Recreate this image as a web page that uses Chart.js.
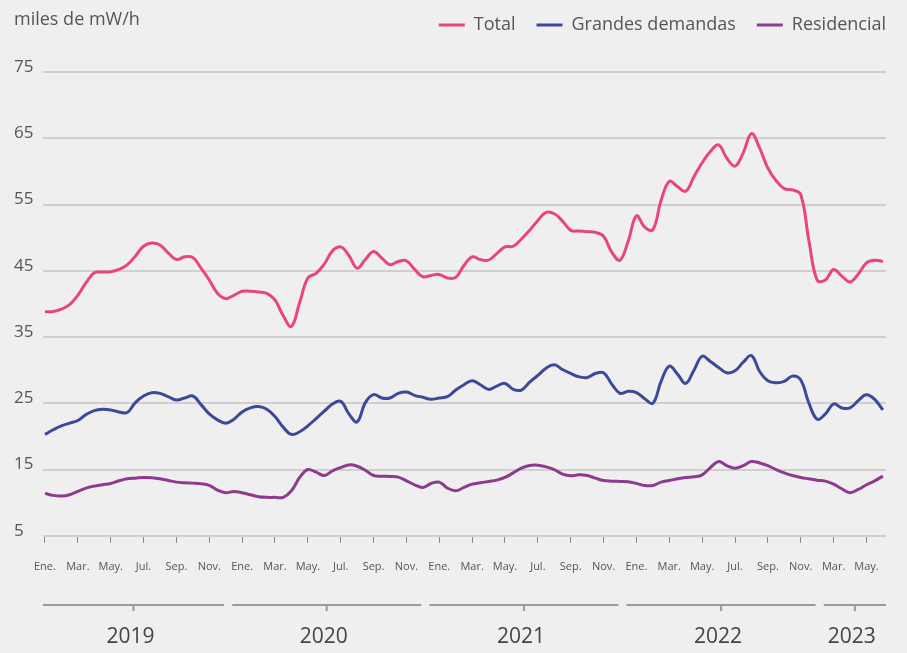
<!DOCTYPE html>
<html>
<head>
<meta charset="utf-8">
<script src="https://cdn.jsdelivr.net/npm/chart.js@4.4.0/dist/chart.umd.min.js"></script>
<style>
  html, body { margin: 0; padding: 0; background: #efefef; }
  #wrap { position: relative; width: 907px; height: 653px; }
</style>
</head>
<body>
<div id="wrap"><canvas id="energyChart" width="907" height="653"></canvas></div>
<script>
// meses desde enero 2019, cada medio mes
const months = [];
for (let m = 0; m <= 51; m += 0.5) months.push(m);

const total = [
  38.8, 38.85, 39.2, 39.9, 41.3, 43.2, 44.7, 44.8, 44.85, 45.2, 45.9, 47.2,
  48.7, 49.2, 48.9, 47.7, 46.7, 47.1, 47.0, 45.4, 43.6, 41.6, 40.8, 41.3,
  41.9, 41.9, 41.8, 41.6, 40.6, 38.2, 36.6, 40.2, 43.9, 44.6, 46.0, 48.0,
  48.6, 47.3, 45.4, 46.7, 47.9, 46.9, 45.9, 46.4, 46.5, 45.2, 44.1, 44.3,
  44.45, 43.9, 44.0, 45.8, 47.1, 46.7, 46.6, 47.6, 48.6, 48.7, 49.8, 51.1,
  52.6, 53.8, 53.6, 52.5, 51.1, 51.0, 50.9, 50.8, 50.2, 47.8, 46.6, 49.5,
  53.3, 51.6, 51.2, 55.6, 58.5, 57.7, 57.0, 59.2, 61.3, 63.0, 64.0, 62.0,
  60.8, 62.8, 65.7, 63.5, 60.5, 58.6, 57.4, 57.2, 56.5, 49.5, 43.6, 43.6,
  45.2, 44.2, 43.3, 44.5, 46.2, 46.6, 46.4
];

const grandesDemandas = [
  20.3, 21.0, 21.6, 22.0, 22.4, 23.3, 23.9, 24.1, 24.0, 23.7, 23.6, 25.1,
  26.1, 26.6, 26.5, 26.0, 25.5, 25.8, 26.1, 24.8, 23.4, 22.5, 22.0, 22.6,
  23.7, 24.3, 24.5, 24.1, 23.0, 21.4, 20.3, 20.7, 21.6, 22.7, 23.8, 24.9,
  25.3, 23.4, 22.2, 25.1, 26.3, 25.8, 25.8, 26.5, 26.7, 26.2, 25.9, 25.6,
  25.8, 26.0, 27.0, 27.8, 28.4, 27.8, 27.1, 27.6, 28.0, 27.1, 27.0, 28.2,
  29.2, 30.3, 30.8, 30.1, 29.5, 29.0, 28.9, 29.5, 29.6, 27.9, 26.5, 26.8,
  26.6, 25.7, 25.0, 28.3, 30.6, 29.4, 28.0, 30.0, 32.1, 31.3, 30.4, 29.6,
  29.9, 31.2, 32.2, 29.8, 28.4, 28.1, 28.3, 29.1, 28.5, 25.0, 22.6, 23.4,
  24.9, 24.3, 24.3, 25.4, 26.3, 25.6, 24.0
];

const residencial = [
  11.4, 11.1, 11.0, 11.2, 11.7, 12.2, 12.5, 12.7, 12.9, 13.3, 13.6, 13.7,
  13.8, 13.75, 13.6, 13.35, 13.1, 13.0, 12.95, 12.85, 12.6, 11.9, 11.5, 11.7,
  11.5, 11.2, 10.9, 10.8, 10.8, 10.8, 11.8, 13.8, 15.0, 14.6, 14.1, 14.8,
  15.3, 15.7, 15.5, 14.9, 14.1, 14.0, 13.95, 13.85, 13.3, 12.7, 12.3, 12.9,
  13.1, 12.2, 11.8, 12.3, 12.8, 13.0, 13.2, 13.4, 13.8, 14.5, 15.2, 15.6,
  15.65, 15.4, 15.0, 14.3, 14.05, 14.2, 14.1, 13.7, 13.35, 13.25, 13.2, 13.15,
  12.9, 12.6, 12.6, 13.1, 13.35, 13.6, 13.8, 13.9, 14.2, 15.3, 16.2, 15.6,
  15.2, 15.6, 16.2, 16.0, 15.6, 15.0, 14.5, 14.1, 13.8, 13.6, 13.4, 13.25,
  12.8, 12.1, 11.5, 12.0, 12.7, 13.3, 14.0
];

const tickMonths = [];
for (let m = 0; m <= 50; m += 2) tickMonths.push(m);
const tickLabels = [
  'Ene.', 'Mar.', 'May.', 'Jul.', 'Sep.', 'Nov.',
  'Ene.', 'Mar.', 'May.', 'Jul.', 'Sep.', 'Nov.',
  'Ene.', 'Mar.', 'May.', 'Jul.', 'Sep.', 'Nov.',
  'Ene.', 'Mar.', 'May.', 'Jul.', 'Sep.', 'Nov.',
  'Mar.', 'May.'
];
const yTicks = [5, 15, 25, 35, 45, 55, 65, 75];
const years = ['2019', '2020', '2021', '2022', '2023'];

const FONT = "'Open Sans', 'DejaVu Sans', sans-serif";

// mas espacio bajo la leyenda, y leyenda un poco mas arriba
const legendSpacer = {
  id: 'legendSpacer',
  beforeInit(chart) {
    const fit = chart.legend.fit;
    chart.legend.fit = function () {
      fit.bind(chart.legend)();
      this.height += 23;
    };
  },
  afterLayout(chart) {
    chart.legend.top -= 5;
    chart.legend.bottom -= 5;
  }
};

// etiqueta de unidades y llaves de años
const extrasPlugin = {
  id: 'extras',
  afterDraw(chart) {
    const ctx = chart.ctx;
    const x = chart.scales.x;
    ctx.save();
    ctx.fillStyle = '#555';
    ctx.font = '18px ' + FONT;
    ctx.textAlign = 'left';
    ctx.textBaseline = 'middle';
    ctx.fillText('miles de mW/h', 14, 20);

    const lineY = 605;
    ctx.strokeStyle = '#9a9a9a';
    ctx.lineWidth = 2;
    ctx.font = '21px ' + FONT;
    ctx.fillStyle = '#444';
    ctx.textAlign = 'center';
    years.forEach((yr, k) => {
      const a = Math.max(12 * k - 0.6, x.min);
      const b = Math.min(12 * k + 10.9, x.max);
      const x0 = x.getPixelForValue(a);
      const x1 = x.getPixelForValue(b);
      const xc = (x0 + x1) / 2;
      ctx.beginPath();
      ctx.moveTo(x0, lineY);
      ctx.lineTo(x1, lineY);
      ctx.moveTo(xc, lineY);
      ctx.lineTo(xc, lineY + 6);
      ctx.stroke();
      ctx.fillText(yr, xc - 3, 637);
    });
    ctx.restore();
  }
};

const ctx = document.getElementById('energyChart').getContext('2d');
new Chart(ctx, {
  type: 'line',
  data: {
    datasets: [
      { label: 'Total', data: total, borderColor: '#e8457e', backgroundColor: '#e8457e' },
      { label: 'Grandes demandas', data: grandesDemandas, borderColor: '#3b4a98', backgroundColor: '#3b4a98' },
      { label: 'Residencial', data: residencial, borderColor: '#8e3a8e', backgroundColor: '#8e3a8e' }
    ].map(d => Object.assign(d, {
      data: d.data.map((v, i) => ({ x: months[i], y: v })),
      borderWidth: 3,
      pointRadius: 0,
      tension: 0.4,
      fill: false
    }))
  },
  options: {
    responsive: false,
    animation: false,
    layout: { padding: { top: 0, right: 0, bottom: 63, left: 14 } },
    plugins: {
      legend: {
        position: 'top',
        align: 'end',
        labels: {
          usePointStyle: true,
          pointStyle: 'line',
          pointStyleWidth: 26,
          color: '#555',
          font: { family: FONT, size: 18 },
          padding: 21
        }
      },
      tooltip: { enabled: false }
    },
    scales: {
      x: {
        type: 'linear',
        min: -0.12,
        max: 51.19,
        afterBuildTicks: s => { s.ticks = tickMonths.map(v => ({ value: v })); },
        ticks: {
          callback: (v) => tickLabels[tickMonths.indexOf(v)],
          color: '#555',
          font: { family: FONT, size: 11 },
          maxRotation: 0,
          autoSkip: false,
          padding: 17
        },
        grid: { drawOnChartArea: false, drawTicks: true, tickLength: 7, color: '#888', lineWidth: 1 },
        border: { display: false }
      },
      y: {
        min: 5,
        max: 75,
        afterBuildTicks: s => { s.ticks = yTicks.map(v => ({ value: v })); },
        afterFit: s => { s.width = 29; },
        ticks: {
          color: '#555',
          font: { family: FONT, size: 17 },
          crossAlign: 'far',
          labelOffset: -5,
          padding: 0
        },
        grid: { color: '#cfcfcf', lineWidth: 2, drawTicks: false },
        border: { display: false }
      },
      spacer: {
        type: 'linear',
        position: 'right',
        display: true,
        afterFit: s => { s.width = 21; },
        ticks: { display: false },
        grid: { display: false, drawTicks: false },
        border: { display: false }
      }
    }
  },
  plugins: [legendSpacer, extrasPlugin]
});
</script>
</body>
</html>
